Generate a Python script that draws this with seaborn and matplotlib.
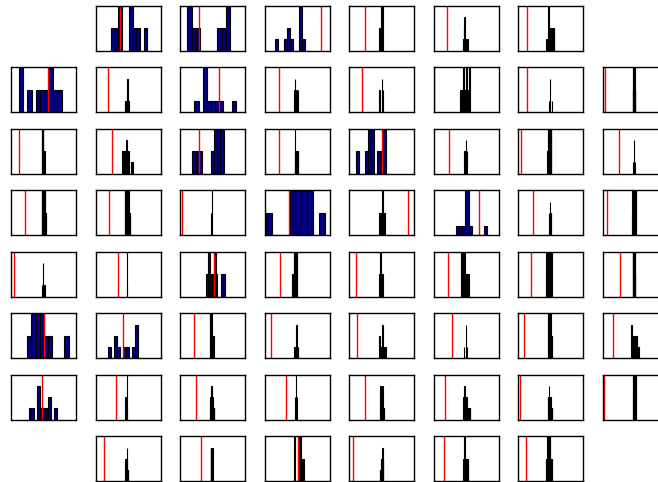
import numpy as np
import matplotlib
matplotlib.use("Agg")
import matplotlib.pyplot as plt
import seaborn as sns

# empty cells of the 8x8 grid
empty_cells = [(0, 0), (0, 7), (7, 0), (7, 7)]

# observed value (red line) for every panel, row by row
observed = [
    0.37, 0.29, 0.87, 0.24, 0.205, 0.138,
    0.575, 0.19, 0.60, 0.22, 0.19, 0.005, 0.14, 0.025,
    0.12, 0.246, 0.29, 0.215, 0.51, 0.24, 0.046, 0.246,
    0.21, 0.205, 0.026, 0.374, 0.91, 0.69, 0.23, 0.067,
    0.04, 0.35, 0.523, 0.23, 0.10, 0.22, 0.19, 0.267,
    0.51, 0.42, 0.22, 0.10, 0.113, 0.28, 0.087, 0.154,
    0.475, 0.32, 0.246, 0.32, 0.24, 0.174, 0.026, 0.015,
    0.123, 0.323, 0.51, 0.06, 0.15, 0.113,
]

# range of the null distribution in each panel
hist_lo = [
    0.241, 0.113, 0.154, 0.46, 0.446, 0.42,
    0.12, 0.446, 0.22, 0.456, 0.46, 0.41, 0.47, 0.456,
    0.47, 0.40, 0.19, 0.46, 0.10, 0.47, 0.446, 0.456,
    0.47, 0.45, 0.47, 0.026, 0.46, 0.344, 0.467, 0.446,
    0.47, 0.477, 0.40, 0.426, 0.46, 0.405, 0.42, 0.456,
    0.25, 0.19, 0.46, 0.456, 0.45, 0.46, 0.456, 0.436,
    0.27, 0.46, 0.46, 0.467, 0.47, 0.446, 0.456, 0.46,
    0.46, 0.47, 0.456, 0.47, 0.456, 0.42,
]
hist_hi = [
    0.795, 0.77, 0.615, 0.515, 0.523, 0.554,
    0.78, 0.51, 0.856, 0.51, 0.52, 0.55, 0.515, 0.50,
    0.52, 0.574, 0.667, 0.513, 0.56, 0.513, 0.508, 0.50,
    0.54, 0.53, 0.497, 0.92, 0.55, 0.82, 0.508, 0.508,
    0.52, 0.49, 0.69, 0.50, 0.513, 0.54, 0.513, 0.50,
    0.886, 0.657, 0.518, 0.518, 0.56, 0.508, 0.518, 0.554,
    0.707, 0.49, 0.528, 0.50, 0.54, 0.56, 0.523, 0.508,
    0.50, 0.50, 0.62, 0.523, 0.533, 0.523,
]

# counts in the 10 bins of each histogram
hist_counts = [
    [1, 1, 2, 0, 0, 2, 1, 1, 0, 1],
    [2, 1, 1, 0, 0, 0, 0, 1, 1, 2],
    [1, 0, 0, 1, 2, 1, 0, 0, 4, 1],
    [1, 0, 0, 0, 0, 0, 2, 2, 0, 2],
    [1, 1, 2, 3, 1, 1, 1, 0, 0, 1],
    [1, 1, 1, 4, 2, 2, 2, 2, 2, 2],

    [2, 0, 1, 0, 1, 1, 1, 2, 1, 1],
    [1, 0, 1, 0, 0, 1, 0, 3, 0, 1],
    [1, 0, 4, 1, 1, 1, 1, 0, 0, 1],
    [2, 0, 3, 0, 0, 0, 2, 0, 0, 2],
    [2, 0, 0, 0, 0, 0, 0, 3, 0, 2],
    [2, 2, 2, 4, 2, 2, 4, 2, 0, 4],
    [1, 0, 0, 0, 3, 0, 0, 0, 0, 1],
    [4, 2, 4, 2, 4, 2, 4, 2, 2, 2],

    [4, 4, 4, 4, 4, 2, 2, 2, 2, 2],
    [2, 2, 2, 2, 3, 2, 2, 0, 1, 1],
    [1, 1, 1, 0, 0, 0, 1, 2, 2, 2],
    [2, 4, 2, 2, 2, 2, 2, 2, 2, 2],
    [1, 0, 0, 1, 2, 2, 0, 1, 1, 2],
    [2, 0, 0, 2, 0, 0, 3, 0, 2, 0],
    [2, 4, 4, 4, 4, 4, 4, 4, 4, 4],
    [1, 0, 0, 0, 0, 3, 0, 0, 0, 1],

    [4, 4, 4, 4, 4, 4, 4, 4, 2, 2],
    [4, 4, 4, 4, 4, 4, 4, 4, 2, 2],
    [2, 0, 0, 0, 0, 0, 0, 0, 0, 4],
    [1, 0, 0, 0, 2, 2, 2, 2, 0, 1],
    [2, 2, 2, 2, 2, 4, 2, 2, 2, 2],
    [1, 1, 1, 5, 1, 0, 0, 0, 0, 1],
    [2, 0, 0, 3, 0, 0, 2, 0, 0, 2],
    [4, 2, 4, 2, 4, 2, 4, 2, 4, 4],

    [1, 0, 0, 3, 0, 0, 0, 0, 0, 1],
    [1, 0, 0, 0, 0, 0, 0, 0, 0, 4],
    [1, 2, 1, 1, 2, 1, 0, 0, 1, 1],
    [2, 2, 2, 4, 4, 4, 4, 4, 4, 4],
    [2, 0, 4, 0, 0, 4, 2, 2, 2, 2],
    [0, 4, 0, 4, 2, 4, 2, 2, 2, 2],
    [2, 4, 4, 4, 4, 4, 4, 4, 4, 4],
    [4, 4, 4, 4, 4, 4, 4, 4, 2, 2],

    [1, 2, 2, 2, 1, 1, 0, 0, 0, 1],
    [1, 0, 2, 1, 0, 1, 1, 0, 1, 3],
    [4, 4, 4, 4, 2, 2, 2, 2, 2, 2],
    [1, 0, 0, 0, 0, 3, 0, 0, 1, 1],
    [0, 2, 1, 1, 1, 3, 1, 1, 1, 1],
    [1, 0, 0, 0, 0, 0, 3, 0, 0, 1],
    [4, 4, 4, 4, 4, 4, 4, 2, 2, 2],
    [3, 2, 2, 2, 2, 2, 2, 2, 1, 1],

    [1, 1, 0, 3, 1, 1, 1, 2, 0, 1],
    [2, 0, 0, 0, 0, 0, 4, 0, 0, 1],
    [2, 2, 2, 3, 2, 2, 1, 1, 1, 1],
    [2, 0, 0, 0, 4, 0, 0, 0, 0, 2],
    [1, 3, 1, 1, 1, 3, 1, 1, 1, 1],
    [2, 2, 3, 2, 2, 1, 1, 1, 1, 1],
    [2, 2, 3, 2, 2, 2, 1, 1, 1, 1],
    [4, 2, 4, 2, 4, 2, 4, 2, 4, 4],

    [2, 2, 2, 2, 2, 3, 1, 1, 1, 1],
    [3, 3, 3, 3, 3, 3, 3, 3, 3, 3],
    [2, 0, 0, 2, 2, 2, 1, 1, 1, 0],
    [1, 1, 1, 2, 2, 2, 2, 3, 2, 2],
    [2, 2, 4, 2, 2, 2, 2, 2, 2, 2],
    [2, 2, 4, 4, 4, 4, 4, 2, 2, 2],
]

# top of the count axis in each panel
count_top = [
    2, 2, 4, 2, 4, 4,
    2, 4, 4, 4, 4, 4, 4, 4,
    4, 4, 2, 4, 2, 4, 4, 4,
    4, 4, 4, 2, 4, 5, 4, 4,
    4, 4, 2, 4, 4, 4, 4, 4,
    2, 4, 4, 4, 4, 4, 4, 4,
    4, 4, 4, 4, 4, 4, 4, 4,
    4, 4, 2, 4, 4, 4,
]

sns.set_style("white", {"axes.edgecolor": "black"})

fig, axes = plt.subplots(8, 8, figsize=(6.58, 4.82), dpi=100)
fig.subplots_adjust(left=0.0167, right=1.0152, bottom=0.002, top=0.9876,
                    wspace=0.30, hspace=0.38)

cells = [(r, c) for r in range(8) for c in range(8) if (r, c) not in empty_cells]
for r, c in empty_cells:
    axes[r, c].axis("off")

for i, (r, c) in enumerate(cells):
    ax = axes[r, c]
    lo, hi = hist_lo[i], hist_hi[i]
    edges = np.linspace(lo, hi, 11)
    centers = (edges[:-1] + edges[1:]) / 2
    sns.histplot(x=centers, weights=hist_counts[i], bins=10, binrange=(lo, hi),
                 color="navy", edgecolor="black", linewidth=0.8, alpha=1, ax=ax)
    ax.axvline(observed[i], color="red", linewidth=1)
    ax.set_xlim(0, 1)
    ax.set_ylim(0, count_top[i])
    ax.set_xticks([])
    ax.set_yticks([])
    ax.set_xlabel("")
    ax.set_ylabel("")
    for s in ax.spines.values():
        s.set_linewidth(1)

fig.savefig("out.png", dpi=100)
